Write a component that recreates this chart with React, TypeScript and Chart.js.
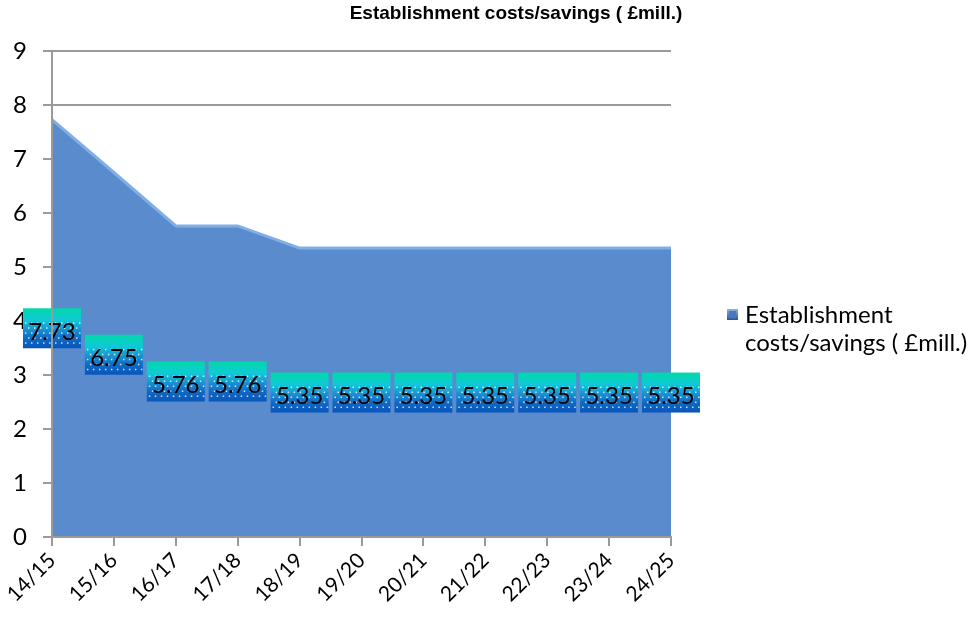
import React, { useEffect, useRef } from "react";
import { Chart, registerables } from "chart.js";

Chart.register(...registerables);

const categories = ["14/15", "15/16", "16/17", "17/18", "18/19", "19/20", "20/21", "21/22", "22/23", "23/24", "24/25"];
const values = [7.73, 6.75, 5.76, 5.76, 5.35, 5.35, 5.35, 5.35, 5.35, 5.35, 5.35];
const seriesName = "Establishment costs/savings ( £mill.)";
const legendLines = ["Establishment", "costs/savings ( £mill.)"];
const titleText = "Establishment costs/savings ( £mill.)";
const visibleGridFrom = 8;

const FONT = "Lato, 'Open Sans', sans-serif";

const labelPlugin = {
  id: "boxLabels",
  afterDatasetsDraw(chart: any) {
    const { ctx, scales } = chart;
    const meta = chart.getDatasetMeta(0);
    const ds = chart.data.datasets[0];
    const w = 58, h = 40;
    meta.data.forEach((pt: any, i: number) => {
      const v = ds.data[i];
      const cx = pt.x;
      const cy = scales.y.getPixelForValue(v / 2);
      const x0 = cx - w / 2, y0 = cy - h / 2;
      const g = ctx.createLinearGradient(0, y0, 0, y0 + h);
      g.addColorStop(0, "#00D9A8");
      g.addColorStop(0.3, "#10C8D8");
      g.addColorStop(0.55, "#1A8ED0");
      g.addColorStop(0.75, "#0E6AC4");
      g.addColorStop(1, "#0A55BA");
      ctx.save();
      ctx.fillStyle = g;
      ctx.fillRect(x0, y0, w, h);
      ctx.fillStyle = "rgba(255,255,255,0.8)";
      let row = 0;
      for (let yy = y0 + 14; yy < y0 + h - 1; yy += 5) {
        const off = row % 2 === 0 ? 2 : 5;
        for (let xx = x0 + off; xx < x0 + w - 1; xx += 6) {
          ctx.fillRect(xx, yy, 1.5, 1.5);
        }
        row++;
      }
      ctx.fillStyle = "#000";
      ctx.font = `24px ${FONT}`;
      ctx.textAlign = "center";
      ctx.textBaseline = "middle";
      ctx.fillText(v.toFixed(2), cx, cy + 4);
      ctx.restore();
    });
  },
  afterDraw(chart: any) {
    const { ctx } = chart;
    ctx.save();
    // title
    ctx.fillStyle = "#000";
    ctx.font = "bold 19px 'Liberation Sans', Arial, sans-serif";
    ctx.textAlign = "center";
    ctx.textBaseline = "middle";
    ctx.fillText(titleText, 516, 14);
    // legend
    const bx = 727, by = 309, bs = 11;
    const g = ctx.createLinearGradient(bx, by, bx, by + bs);
    g.addColorStop(0, "#8FB5E6");
    g.addColorStop(1, "#2A5599");
    ctx.fillStyle = g;
    ctx.fillRect(bx, by, bs, bs);
    ctx.fillStyle = "#4A78BE";
    ctx.fillRect(bx + 2, by + 2, bs - 4, bs - 4);
    ctx.fillStyle = "#000";
    ctx.font = `24px ${FONT}`;
    ctx.textAlign = "left";
    ctx.textBaseline = "middle";
    ctx.fillText(legendLines[0], 745, 315);
    ctx.fillText(legendLines[1], 745, 343);
    ctx.restore();
  },
};

export default function App() {
  const ref = useRef<HTMLCanvasElement>(null);
  useEffect(() => {
    if (!ref.current) return;
    const chart = new Chart(ref.current, {
      type: "line",
      data: {
        labels: categories,
        datasets: [
          {
            label: seriesName,
            data: values,
            fill: "origin",
            backgroundColor: "#5A8BCD",
            borderColor: "#80AFE8",
            borderWidth: 3,
            pointRadius: 0,
            tension: 0,
          },
        ],
      },
      options: {
        responsive: false,
        animation: false,
        layout: { padding: { top: 51, right: 306, left: 0, bottom: 0 } },
        plugins: {
          legend: { display: false },
          title: { display: false },
          tooltip: { enabled: false },
        },
        scales: {
          x: {
            offset: false,
            grid: { drawOnChartArea: false, drawTicks: true, tickLength: 9, color: "#9A9A9A", lineWidth: 2 },
            border: { color: "#9A9A9A", width: 2, z: 1 },
            ticks: {
              color: "#000",
              font: { family: FONT, size: 21 },
              maxRotation: 45,
              minRotation: 45,
              padding: 2,
              autoSkip: false,
            },
            afterFit: (s: any) => {
              s.height = 84;
            },
          },
          y: {
            min: 0,
            max: 9,
            ticks: { stepSize: 1, color: "#000", font: { family: FONT, size: 24 }, padding: 16 },
            grid: {
              color: (c: any) => (c.tick && c.tick.value >= visibleGridFrom ? "#9A9A9A" : "rgba(0,0,0,0)"),
              tickColor: "#9A9A9A",
              lineWidth: 2,
              tickLength: 9,
            },
            border: { color: "#9A9A9A", width: 2, z: 1 },
            afterFit: (s: any) => {
              s.width = 52;
            },
          },
        },
      },
      plugins: [labelPlugin],
    });
    return () => chart.destroy();
  }, []);
  return (
    <div style={{ position: "fixed", left: 0, top: 0, width: 977, height: 621, background: "#fff" }}>
      <canvas ref={ref} width={977} height={621} style={{ width: 977, height: 621 }} />
    </div>
  );
}
